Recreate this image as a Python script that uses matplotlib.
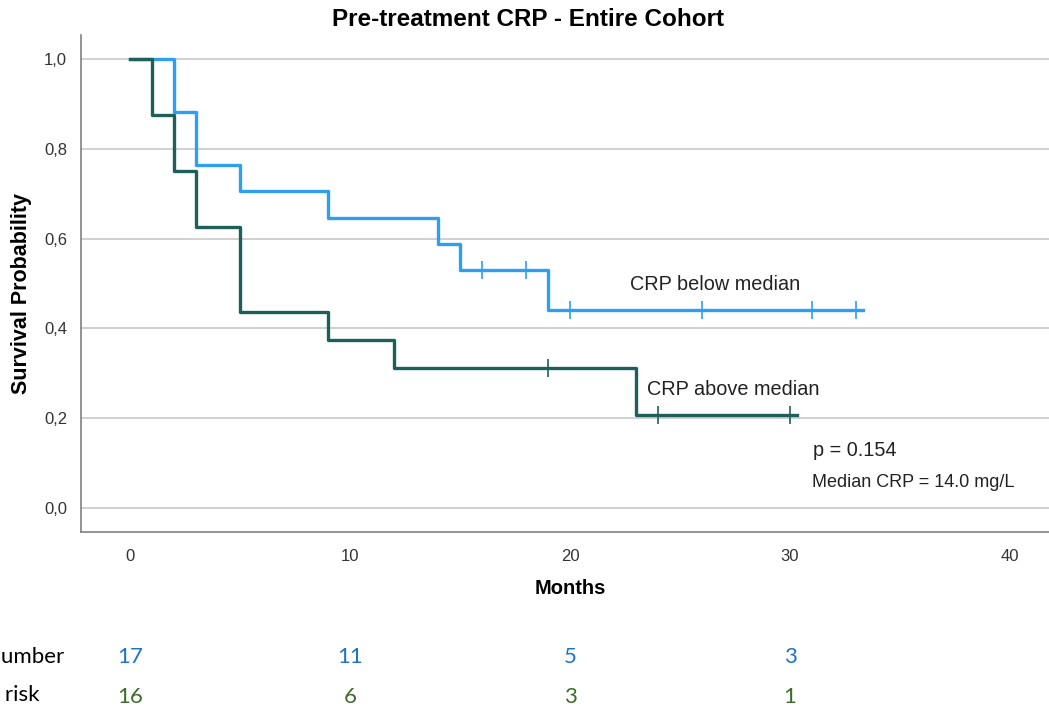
import matplotlib
matplotlib.use("Agg")
import matplotlib.pyplot as plt
from matplotlib import font_manager

# ---- data ----
below_times = [0, 2, 3, 5, 9, 14, 15, 19, 33.3]
below_surv = [1.0, 0.882, 0.765, 0.706, 0.647, 0.588, 0.529, 0.441, 0.441]
below_cens_t = [16, 18, 20, 26, 31, 33]
below_cens_s = [0.529, 0.529, 0.441, 0.441, 0.441, 0.441]

above_times = [0, 1, 2, 3, 5, 9, 12, 23, 30.3]
above_surv = [1.0, 0.875, 0.75, 0.625, 0.4375, 0.375, 0.3125, 0.208, 0.208]
above_cens_t = [19, 24, 30]
above_cens_s = [0.3125, 0.208, 0.208]

risk_times = [0, 10, 20, 30]
risk_below = [17, 11, 5, 3]
risk_above = [16, 6, 3, 1]

yticks = [0.0, 0.2, 0.4, 0.6, 0.8, 1.0]
xticks = [0, 10, 20, 30, 40]

BLUE = "#2E9EF0"
GREEN = "#1D605B"
RISK_BLUE = "#1E74C6"
RISK_GREEN = "#3F6B2C"

names = {f.name for f in font_manager.fontManager.ttflist}
narrow = "Liberation Sans Narrow" if "Liberation Sans Narrow" in names else "Liberation Sans"
calibri_like = "Lato" if "Lato" in names else "DejaVu Sans"
plt.rcParams["font.family"] = ["Liberation Sans", "DejaVu Sans"]

W, H = 1049, 708
fig = plt.figure(figsize=(W / 100, H / 100), dpi=100)
ax = fig.add_axes([81 / W, 1 - 532 / H, 1 - 81 / W, (532 - 35) / H])

ax.step(below_times, below_surv, where="post", color=BLUE, lw=2.4, zorder=3)
ax.step(above_times, above_surv, where="post", color=GREEN, lw=2.4, zorder=3)
ax.plot(below_cens_t, below_cens_s, ls="none", marker="|", ms=13, mew=1.2, color=BLUE, zorder=4)
ax.plot(above_cens_t, above_cens_s, ls="none", marker="|", ms=13, mew=1.2, color=GREEN, zorder=4)

ax.set_xlim(-2.227, 41.77)
ax.set_ylim(-0.0535, 1.0535)
ax.set_yticks(yticks)
ax.set_yticklabels([f"{v:.1f}".replace(".", ",") for v in yticks], family=narrow, fontsize=12, color="#333333")
ax.set_xticks(xticks)
ax.set_xticklabels([str(v) for v in xticks], family=narrow, fontsize=12, color="#333333")
ax.tick_params(length=0, pad=10)
ax.tick_params(axis="x", pad=12)
ax.grid(axis="y", color="#C8C8C8", lw=1.2, zorder=0)
for s in ["top", "right"]:
    ax.spines[s].set_visible(False)
for s in ["left", "bottom"]:
    ax.spines[s].set_color("#808080")
    ax.spines[s].set_linewidth(1.2)

ax.set_xlabel("Months", fontsize=14.5, fontweight="bold", va="center")
ax.xaxis.set_label_coords((570 - 81) / 968, (532 - 588) / 497)
ax.set_ylabel("Survival Probability", fontsize=15.5, fontweight="bold", va="center")
ax.yaxis.set_label_coords((22 - 81) / 968, (532 - 294) / 497)
fig.text(528 / W, 1 - 20 / H, "Pre-treatment CRP - Entire Cohort", ha="center", va="center",
         fontsize=17.5, fontweight="bold")

ax.text(26.6, 0.497, "CRP below median", ha="center", va="center", fontsize=14.3, color="#222222")
ax.text(23.5, 0.265, "CRP above median", ha="left", va="center", fontsize=14.3, color="#222222")
ax.text(31.05, 0.129, "p = 0.154", ha="left", va="center", fontsize=14.3, color="#222222")
ax.text(31.0, 0.056, "Median CRP = 14.0 mg/L", ha="left", va="center", fontsize=13, color="#222222")

# number at risk table
for t, nb, na in zip(risk_times, risk_below, risk_above):
    xpix = 130 + 22 * t
    fig.text(xpix / W, 1 - 657 / H, str(nb), ha="center", va="center", fontsize=16,
             color=RISK_BLUE, family=calibri_like)
    fig.text(xpix / W, 1 - 697 / H, str(na), ha="center", va="center", fontsize=16,
             color=RISK_GREEN, family=calibri_like)
fig.text(-16 / W, 1 - 657 / H, "Number", ha="left", va="center", fontsize=16, family=calibri_like)
fig.text(-20 / W, 1 - 695 / H, "at risk", ha="left", va="center", fontsize=16, family=calibri_like)

fig.savefig("out.png", dpi=100)
